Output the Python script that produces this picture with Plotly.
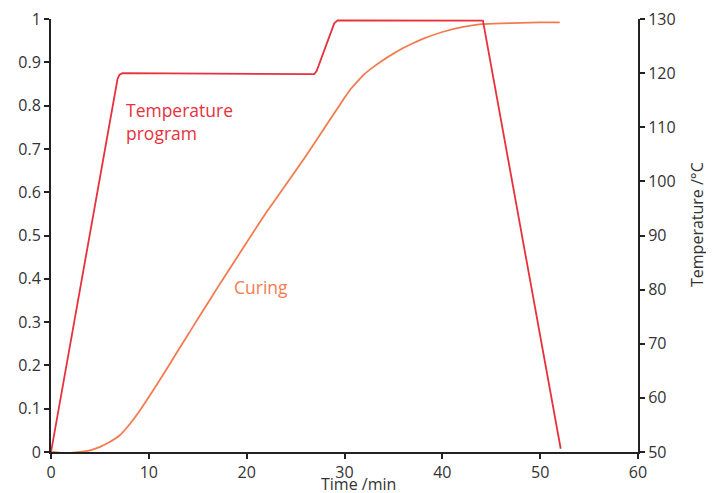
import plotly.graph_objects as go

# Temperature program (°C) vs time (min)
temp_time = [0, 6.8, 7.0, 7.3, 26.9, 27.15, 28.95, 29.3, 44.15, 52.1]
temp_vals = [50, 118.9, 119.7, 120.0, 119.8, 120.4, 129.2, 129.76, 129.7, 50.6]

# Degree of curing vs time (min)
cure_time = [0, 1, 2, 3, 4, 5, 6, 7, 8, 9, 10, 11, 12, 13, 14, 15, 16, 17, 18,
             20, 22, 24, 26, 28, 29, 30, 30.7, 31.5, 32, 33, 34, 35, 36, 37, 38, 40,
             42, 44, 46, 48, 50, 52]
cure_vals = [0, -0.002, -0.002, 0.0, 0.004, 0.012, 0.023, 0.038, 0.063, 0.093,
             0.127, 0.162, 0.198, 0.235, 0.271, 0.307, 0.343, 0.379, 0.414,
             0.484, 0.553, 0.617, 0.682, 0.750, 0.784, 0.818, 0.840, 0.860, 0.872,
             0.890, 0.906, 0.920, 0.933, 0.944, 0.954, 0.970, 0.981, 0.988, 0.990,
             0.991, 0.992, 0.992]

RED = "#e6323d"
ORANGE = "#f27c50"
FONT = "Open Sans"
TXT = "#333"

W, H = 714, 493
OFF = 8  # page offset of the figure (body margin)
pl, pr, pt, pb = 43, 84, 11, 49

fig = go.Figure()
fig.add_trace(go.Scatter(x=cure_time, y=cure_vals, mode="lines",
                         line=dict(color=ORANGE, width=1.8, shape="spline", smoothing=0.5),
                         showlegend=False, yaxis="y"))
fig.add_trace(go.Scatter(x=temp_time, y=temp_vals, mode="lines",
                         line=dict(color=RED, width=1.8),
                         showlegend=False, yaxis="y2"))

axis_common = dict(showgrid=False, zeroline=False, showline=True, linecolor="#222",
                   linewidth=2, ticks="outside", ticklen=5, tickwidth=2, tickcolor="#222",
                   automargin=False, ticklabeloverflow="allow",
                   tickfont=dict(family=FONT, size=16, color=TXT))

pw, ph = W - pl - pr, H - pt - pb


def px_to_paper(xp, yp):
    # page pixel -> paper coords
    return (xp - OFF - pl) / pw, (H - pb - (yp - OFF)) / ph


tx, ty = px_to_paper(358, 484)
rx, ry = px_to_paper(697, 225)

fig.update_layout(
    width=W, height=H,
    margin=dict(l=pl, r=pr, t=pt, b=pb),
    plot_bgcolor="white", paper_bgcolor="white",
    font=dict(family=FONT, color=TXT),
    xaxis=dict(range=[0, 60], dtick=10, **axis_common),
    yaxis=dict(range=[0, 1], dtick=0.1, **axis_common),
    yaxis2=dict(range=[50, 130], dtick=10, overlaying="y", side="right", anchor="x", **axis_common),
    annotations=[
        dict(x=7.5, y=0.764, xref="x", yref="y", text="Temperature<br>program", showarrow=False,
             xanchor="left", yanchor="middle", align="left",
             font=dict(family=FONT, size=17.5, color=RED)),
        dict(x=18.5, y=0.381, xref="x", yref="y", text="Curing", showarrow=False,
             xanchor="left", yanchor="middle", align="left",
             font=dict(family=FONT, size=17.5, color=ORANGE)),
        dict(x=tx, y=ty, xref="paper", yref="paper", text="Time /min", showarrow=False,
             font=dict(family=FONT, size=16, color=TXT), xanchor="center", yanchor="middle"),
        dict(x=rx, y=ry, xref="paper", yref="paper", text="Temperature /°C", showarrow=False,
             textangle=-90, font=dict(family=FONT, size=16, color=TXT),
             xanchor="center", yanchor="middle"),
    ],
)

fig.write_html("out.html")
